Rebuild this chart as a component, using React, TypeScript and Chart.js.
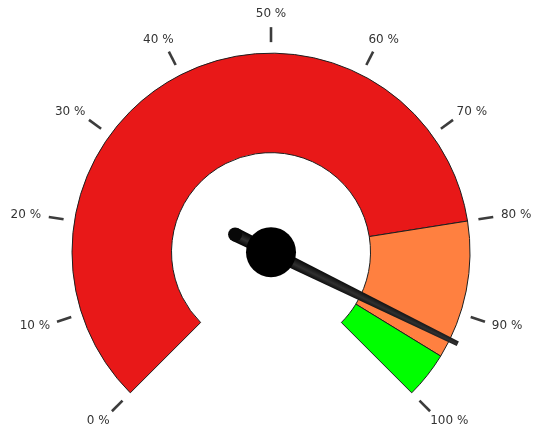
import React, { useEffect, useRef } from "react";
import { Chart, registerables } from "chart.js";

Chart.register(...registerables);

// Gauge bands (widths in percent, summing to 100)
const bandLabels = ["Normal", "Warning", "Critical"];
const bandValues = [80, 15, 5];
const bandColors = ["#E81818", "#FF8040", "#00FF00"];

// Scale ticks
const tickValues = [0, 10, 20, 30, 40, 50, 60, 70, 80, 90, 100];
const tickLabels = ["0 %", "10 %", "20 %", "30 %", "40 %", "50 %", "60 %", "70 %", "80 %", "90 %", "100 %"];

// Needle reading (percent)
const needleValue = [93];

const ROTATION = -135;
const CIRCUMFERENCE = 270;

const gaugePlugin = {
  id: "gaugeDecor",
  afterDatasetsDraw(chart: any) {
    const meta = chart.getDatasetMeta(0);
    const arc: any = meta.data[0];
    if (!arc) return;
    const cx = arc.x;
    const cy = arc.y;
    const R = arc.outerRadius;
    const ctx: CanvasRenderingContext2D = chart.ctx;
    const angleOf = (v: number) =>
      ((-90 + ROTATION + (v / 100) * CIRCUMFERENCE) * Math.PI) / 180;

    ctx.save();
    // ticks
    ctx.strokeStyle = "#3c3c3c";
    ctx.lineWidth = 2.6;
    ctx.lineCap = "butt";
    tickValues.forEach((v) => {
      const a = angleOf(v);
      const dx = Math.cos(a);
      const dy = Math.sin(a);
      ctx.beginPath();
      ctx.moveTo(cx + dx * (R + 11), cy + dy * (R + 11));
      ctx.lineTo(cx + dx * (R + 26), cy + dy * (R + 26));
      ctx.stroke();
    });

    // labels
    ctx.font = "12px 'DejaVu Sans'";
    ctx.fillStyle = "#333333";
    ctx.textAlign = "center";
    ctx.textBaseline = "middle";
    const h = 11;
    tickValues.forEach((v, i) => {
      const a = angleOf(v);
      const dx = Math.cos(a);
      const dy = Math.sin(a);
      const w = ctx.measureText(tickLabels[i]).width;
      const r0 = R + 34;
      const x = cx + dx * r0 + (dx * w) / 2;
      const y = cy + dy * r0 + (dy * h) / 2;
      ctx.fillText(tickLabels[i], x, y);
    });

    // needle
    const a = angleOf(needleValue[0]);
    const dx = Math.cos(a);
    const dy = Math.sin(a);
    const px = -dy;
    const py = dx;
    const tipLen = R + 9;
    const tailLen = 40;
    const tailHalf = 7;
    const tipHalf = 2.5;
    const tx = cx - dx * tailLen;
    const ty = cy - dy * tailLen;
    const ex = cx + dx * tipLen;
    const ey = cy + dy * tipLen;
    const grad = ctx.createLinearGradient(
      cx + px * tailHalf,
      cy + py * tailHalf,
      cx - px * tailHalf,
      cy - py * tailHalf
    );
    grad.addColorStop(0, "#000000");
    grad.addColorStop(0.45, "#303030");
    grad.addColorStop(1, "#000000");
    ctx.fillStyle = grad;
    ctx.beginPath();
    ctx.moveTo(tx + px * tailHalf, ty + py * tailHalf);
    ctx.lineTo(ex + px * tipHalf, ey + py * tipHalf);
    ctx.lineTo(ex - px * tipHalf, ey - py * tipHalf);
    ctx.lineTo(tx - px * tailHalf, ty - py * tailHalf);
    ctx.closePath();
    ctx.fill();
    ctx.beginPath();
    ctx.arc(tx, ty, tailHalf, 0, Math.PI * 2);
    ctx.fillStyle = "#080808";
    ctx.fill();

    // hub
    ctx.beginPath();
    ctx.arc(cx, cy, 25, 0, Math.PI * 2);
    ctx.fillStyle = "#000000";
    ctx.fill();
    ctx.restore();
  },
};

export default function App() {
  const canvasRef = useRef<HTMLCanvasElement | null>(null);

  useEffect(() => {
    if (!canvasRef.current) return;
    const chart = new Chart(canvasRef.current, {
      type: "doughnut",
      data: {
        labels: bandLabels,
        datasets: [
          {
            data: bandValues,
            backgroundColor: bandColors,
            borderColor: "#1e1e1e",
            borderWidth: 1,
            hoverOffset: 0,
          },
        ],
      },
      options: {
        animation: false,
        responsive: true,
        maintainAspectRatio: false,
        rotation: ROTATION,
        circumference: CIRCUMFERENCE,
        cutout: "50%",
        radius: 199,
        events: [],
        layout: { padding: { left: 7, top: 12, right: 0, bottom: 0 } },
        plugins: {
          legend: { display: false },
          tooltip: { enabled: false },
        },
      } as any,
      plugins: [gaugePlugin],
    });
    return () => chart.destroy();
  }, []);

  return (
    <div
      style={{
        position: "absolute",
        left: 0,
        top: 0,
        width: 535,
        height: 434,
        background: "#ffffff",
      }}
    >
      <canvas ref={canvasRef} />
    </div>
  );
}
